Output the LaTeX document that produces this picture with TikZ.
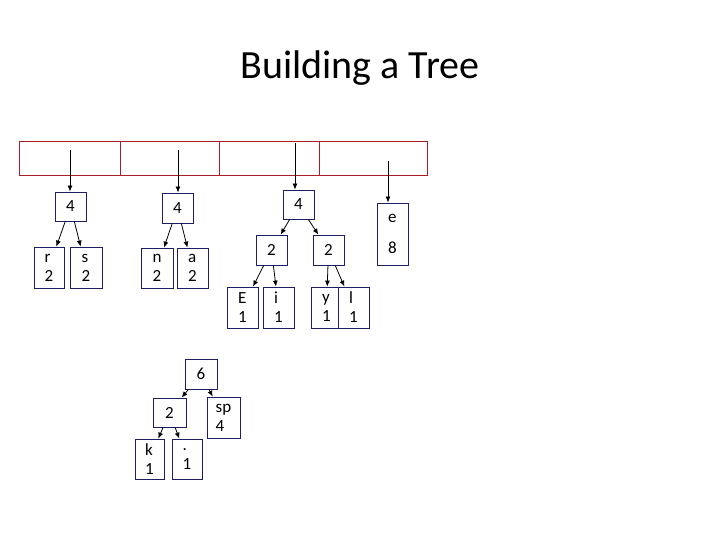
\documentclass[tikz,border=0pt]{standalone}
\usepackage{fontspec}
\setmainfont{Carlito}
\usetikzlibrary{arrows.meta}
\definecolor{boxblue}{RGB}{30,30,100}
\definecolor{cellred}{RGB}{170,30,40}
\begin{document}
\begin{tikzpicture}[x=1pt,y=-1pt]
\useasboundingbox (0,0) rectangle (720,540);

\begin{scope}[every node/.style={draw=boxblue,thick,fill=white,font=\fontsize{17}{19}\selectfont,inner sep=0pt,align=left}]
    \node (title) at (360,68) [draw=none,font=\fontsize{40}{44}\selectfont] {Building a Tree};

    \node (ra) at (70.5,206.5) [minimum width=31,minimum height=29] {4};
    \node (r) at (49,267.5) [minimum width=30,minimum height=41] {r\\2};
    \node (s) at (86,267.5) [minimum width=32,minimum height=41] {s\\2};

    \node (na) at (177.5,208) [minimum width=31,minimum height=30] {4};
    \node (n) at (157,268) [minimum width=32,minimum height=40] {n\\2};
    \node (a) at (192.5,268) [minimum width=31,minimum height=40] {a\\2};

    \node (ei) at (298.5,204.5) [minimum width=31,minimum height=29] {4};
    \node (e2) at (271.5,250) [minimum width=31,minimum height=30] {2};
    \node (y2) at (328.5,250) [minimum width=31,minimum height=30] {2};
    \node (E) at (242.5,307.5) [minimum width=31,minimum height=41] {E\\1};
    \node (i) at (278.5,307.5) [minimum width=31,minimum height=41] {i\\1};
    \node (y) at (326.5,307.5) [minimum width=31,minimum height=41] {y\\1};
    \node (l) at (353.5,307.5) [minimum width=31,minimum height=41] {l\\1};

    \node (e) at (392.5,234) [minimum width=31,minimum height=62] {e\\[12pt]8};

    \node (six) at (201,374) [minimum width=32,minimum height=30] {6};
    \node (ka) at (169.5,412.5) [minimum width=33,minimum height=29] {2};
    \node (sp) at (223.5,417.5) [minimum width=33,minimum height=41] {sp\\4};
    \node (k) at (149.5,459) [minimum width=29,minimum height=40] {k\\1};
    \node (dot) at (187,459) [minimum width=30,minimum height=40] {.\\1};
\end{scope}

% array of cells
\foreach \xa/\xb in {19/120,120/219,219/319,319/427}
    \draw[cellred] (\xa,141) rectangle (\xb,175);

\coordinate (c1) at (70,150);
\coordinate (c2) at (178,150);
\coordinate (c3) at (295,143);
\coordinate (c4) at (388,161);

\begin{scope}[>={Latex[length=6pt,width=5pt]}, every edge/.style={draw=black,thick}]
    \path [->] (c1) edge (ra.north -| c1);
    \path [->] (c2) edge (na.north -| c2);
    \path [->] (c3) edge (ei.north -| c3);
    \path [->] (c4) edge (e.north -| c4);

    \path [->] (ra) edge (r);
    \path [->] (ra) edge (s);
    \path [->] (na) edge (n);
    \path [->] (na) edge (a);
    \path [->] (ei) edge (e2);
    \path [->] (ei) edge (y2);
    \path [->] (e2) edge (E);
    \path [->] (e2) edge (i);
    \path [->] (y2) edge (y);
    \path [->] (y2) edge (l);
    \path [->] (six) edge (ka);
    \path [->] (six) edge (sp);
    \path [->] (ka) edge (k);
    \path [->] (ka) edge (dot);
\end{scope}
\end{tikzpicture}
\end{document}
